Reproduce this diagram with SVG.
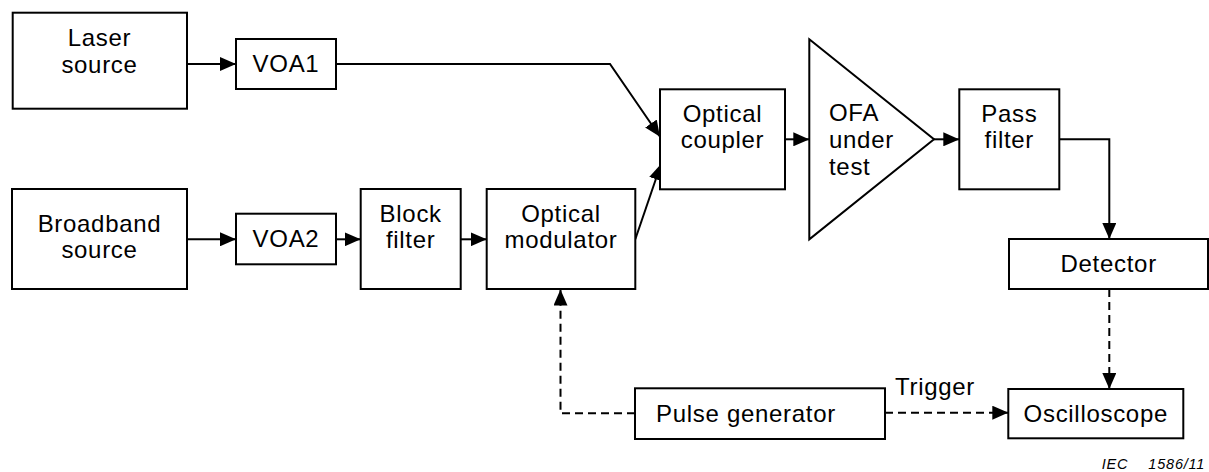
<svg xmlns="http://www.w3.org/2000/svg" width="1209" height="472" viewBox="0 0 1209 472">
  <defs>
    <style>
      .box { fill: #fff; stroke: #000; stroke-width: 2; }
      .t { font-family: "Liberation Sans", Arial, sans-serif; font-size: 24px; letter-spacing: 0.7px; fill: #000; }
      .c { text-anchor: middle; }
      .ln { fill: none; stroke: #000; stroke-width: 2; }
      .dash { stroke-dasharray: 8 5; }
      .iec { font-family: "Liberation Sans", Arial, sans-serif; font-size: 14.5px; font-style: italic; letter-spacing: 0.8px; fill: #000; }
    </style>
    <marker id="arr" markerUnits="userSpaceOnUse" markerWidth="16" markerHeight="14" refX="16" refY="7" orient="auto" viewBox="0 0 16 14">
      <path d="M0,0 L16,7 L0,14 Z" fill="#000" stroke="none"/>
    </marker>
  </defs>
  <rect width="1209" height="472" fill="#fff"/>

  <g id="connectors">
    <path class="ln" d="M187,64 L236,64" marker-end="url(#arr)"/>
    <path class="ln" d="M336,64 L610,64 L660,136.7" marker-end="url(#arr)"/>
    <path class="ln" d="M187,239.3 L236,239.3" marker-end="url(#arr)"/>
    <path class="ln" d="M336,239.3 L360.7,239.3" marker-end="url(#arr)"/>
    <path class="ln" d="M460.7,239.3 L486.7,239.3" marker-end="url(#arr)"/>
    <path class="ln" d="M635.3,239.3 L661,164" marker-end="url(#arr)"/>
    <path class="ln" d="M785,139.3 L809.3,139.3" marker-end="url(#arr)"/>
    <path class="ln" d="M934,139.3 L959.3,139.3" marker-end="url(#arr)"/>
    <path class="ln" d="M1059.3,139.3 L1109.3,139.3 L1109.3,239" marker-end="url(#arr)"/>
    <path class="ln dash" d="M1109.3,289 L1109.3,389" marker-end="url(#arr)"/>
    <path class="ln dash" d="M635,413.3 L560.5,413.3 L560.5,289.5" marker-end="url(#arr)"/>
    <path class="ln dash" d="M885,412.7 L1008.3,412.7" marker-end="url(#arr)"/>
    <text class="t" x="895" y="395">Trigger</text>
  </g>

  <g id="laser">
    <rect class="box" x="12.7" y="12.7" width="174.3" height="96"/>
    <text class="t c" x="99.5" y="46">Laser</text>
    <text class="t c" x="99.5" y="72.7">source</text>
  </g>
  <g id="voa1">
    <rect class="box" x="236" y="39" width="100" height="50"/>
    <text class="t c" x="286" y="72">VOA1</text>
  </g>
  <g id="broadband">
    <rect class="box" x="12" y="189" width="175" height="100"/>
    <text class="t c" x="99.5" y="231.7">Broadband</text>
    <text class="t c" x="99.5" y="258.3">source</text>
  </g>
  <g id="voa2">
    <rect class="box" x="236" y="213.7" width="100" height="50.6"/>
    <text class="t c" x="286" y="246.7">VOA2</text>
  </g>
  <g id="blockfilter">
    <rect class="box" x="360.7" y="189" width="100" height="100"/>
    <text class="t c" x="410.7" y="221.7">Block</text>
    <text class="t c" x="410.7" y="248.3">filter</text>
  </g>
  <g id="modulator">
    <rect class="box" x="486.7" y="189" width="148.6" height="100"/>
    <text class="t c" x="561" y="221.7">Optical</text>
    <text class="t c" x="561" y="248.3">modulator</text>
  </g>
  <g id="coupler">
    <rect class="box" x="660" y="89.3" width="125" height="100"/>
    <text class="t c" x="722.5" y="121.7">Optical</text>
    <text class="t c" x="722.5" y="148.3">coupler</text>
  </g>
  <g id="ofa">
    <polygon class="box" points="809.3,39.3 934,139.3 809.3,239.3"/>
    <text class="t" x="829" y="120.7">OFA</text>
    <text class="t" x="829" y="147.7">under</text>
    <text class="t" x="829" y="174.7">test</text>
  </g>
  <g id="passfilter">
    <rect class="box" x="959.3" y="89.3" width="100" height="100"/>
    <text class="t c" x="1009.3" y="121.7">Pass</text>
    <text class="t c" x="1009.3" y="148.3">filter</text>
  </g>
  <g id="detector">
    <rect class="box" x="1009" y="239" width="199" height="50"/>
    <text class="t c" x="1108.7" y="271.7">Detector</text>
  </g>
  <g id="oscilloscope">
    <rect class="box" x="1008.3" y="389" width="175" height="49.3"/>
    <text class="t c" x="1095.8" y="421.7">Oscilloscope</text>
  </g>
  <g id="pulsegen">
    <rect class="box" x="635" y="388.3" width="250" height="50.7"/>
    <text class="t" x="656" y="421.7">Pulse generator</text>
  </g>

  <text class="iec" y="469"><tspan x="1101.7">IEC</tspan><tspan x="1148.3">1586/11</tspan></text>
</svg>
